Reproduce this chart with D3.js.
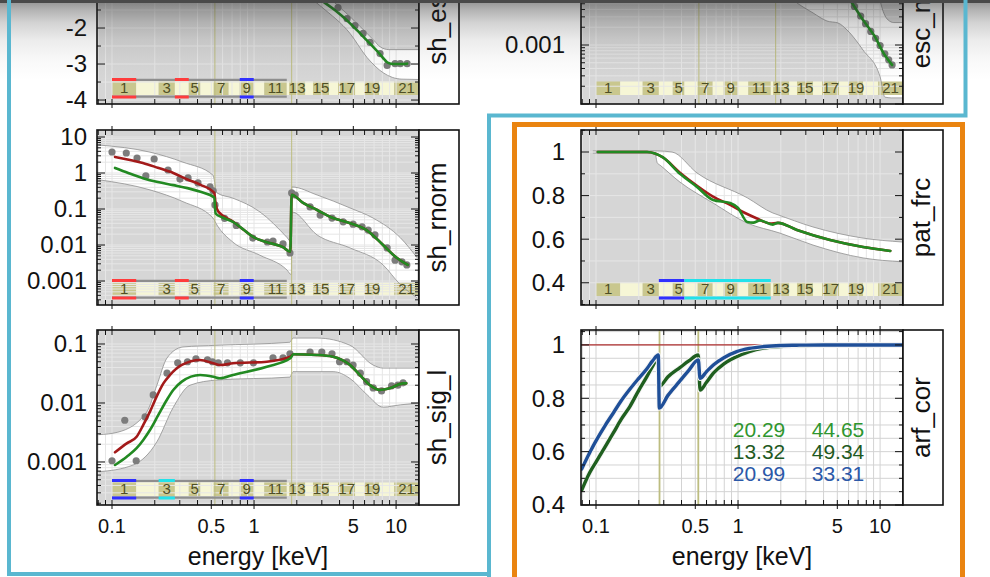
<!DOCTYPE html>
<html>
<head>
<meta charset="utf-8">
<script src="https://cdn.jsdelivr.net/npm/d3@7"></script>
<style>
  html, body { margin: 0; padding: 0; background: #fff; }
  svg { display: block; }
</style>
</head>
<body>
<script>
// ---------- shared energy axis ----------
const energyDomain = [0.0784, 14.5];
const energyTicks = [0.1, 0.5, 1, 5, 10];
const energyTickLabels = ["0.1", "0.5", "1", "5", "10"];

// channel groups shown in the strip along the bottom of the panels
const channelEdges = [0.1, 0.148, 0.213, 0.277, 0.347, 0.419, 0.52, 0.663, 0.793, 0.995, 1.18,
                      1.70, 1.77, 2.29, 2.60, 3.37, 3.91, 5.15, 6.05, 7.59, 9.69, 14.5];

// absorption edges
const edgeEnergies = [0.53, 1.84];
const arfEdgeEnergies = [0.28, 0.525];

// ---------- sh_es ----------
const esTicks = [-4, -3, -2];
const esTickLabels = ["-4", "-3", "-2"];
const esModel = [[2.0,-0.70],[2.5,-0.98],[3.01,-1.24],[3.7,-1.50],[4.52,-1.79],[5.3,-2.06],[6.25,-2.35],
                 [7.0,-2.55],[7.71,-2.73],[8.3,-2.88],[8.65,-2.95],[9.2,-2.99],[9.84,-3.0],[11.0,-3.0],[11.96,-2.99]];
const esPoints = [[3.9,-1.43],[4.52,-1.74],[5.14,-1.93],[5.86,-2.15],[6.56,-2.40],[7.71,-2.71],
                  [8.65,-3.04],[9.84,-2.99],[10.7,-2.99],[11.96,-2.99]];
const esBandLo = [[2.0,-0.88],[3.0,-1.42],[4.74,-2.15],[6.25,-2.82],[8.1,-3.24],[9.4,-3.37],[11.0,-3.42],[14.5,-3.43]];
const esBandHi = [[2.0,-0.52],[3.7,-1.30],[5.3,-1.87],[7.0,-2.35],[7.71,-2.52],[8.9,-2.60],[14.5,-2.60]];
const esRedChannels = [1, 4];
const esBlueChannels = [9];

// ---------- esc_m ----------
const escTicks = [0.001];
const escTickLabels = ["0.001"];
const escModel = [[5.0,0.0125],[6.15,0.0058],[7.59,0.00265],[9.22,0.00137],[10.5,0.00075],[12.15,0.00046]];
const escPoints = [[6.6,0.0045],[7.3,0.0031],[7.9,0.0023],[8.6,0.0017],[9.3,0.0013],[10.0,0.00098],
                   [10.8,0.00071],[11.5,0.00056],[12.15,0.00046]];
const escBandLo = [[1.5,0.02],[2.0,0.009],[2.44,0.0058],[3.37,0.0035],[4.23,0.00255],[5.06,0.00236],[5.85,0.0018],
                   [7.59,0.00082],[10.0,0.00029],[10.8,0.000131],[12.0,0.000127],[14.5,0.000127]];
const escBandHi = [[1.5,0.06],[8.0,0.05],[9.2,0.02],[10.0,0.0058],[11.4,0.00265],[12.5,0.0024],[14.5,0.0024]];

// ---------- sh_rnorm ----------
const rnormTicks = [0.001, 0.01, 0.1, 1, 10];
const rnormTickLabels = ["0.001", "0.01", "0.1", "1", "10"];
const rnormFitA = [[0.105,2.8],[0.165,1.9],[0.21,1.4],[0.27,1.0],[0.34,0.66],[0.42,0.47],[0.525,0.28],[0.536,0.14],
                   [0.56,0.085],[0.71,0.045],[0.85,0.026],[0.98,0.017],[1.23,0.012],[1.6,0.0087],[1.8,0.0065],
                   [1.84,0.25],[2.2,0.15],[2.78,0.094],[3.6,0.056],[4.7,0.041],[6.2,0.026],[8.1,0.010],[10.1,0.0044],[12.1,0.0028]];
const rnormFitB = [[0.105,1.38],[0.13,1.0],[0.165,0.72],[0.21,0.56],[0.27,0.46],[0.34,0.38],[0.42,0.30],[0.525,0.21],
                   [0.536,0.075],[0.6,0.058],[0.71,0.044],[0.85,0.026],[0.98,0.017],[1.23,0.012],[1.6,0.0087],[1.8,0.0065],
                   [1.84,0.25],[2.2,0.15],[2.78,0.094],[3.6,0.056],[4.7,0.041],[6.2,0.026],[8.1,0.010],[10.1,0.0044],[12.1,0.0028]];
const rnormPoints = [[0.100,3.83],[0.126,3.6],[0.150,2.6],[0.173,0.83],[0.198,2.45],[0.248,1.21],[0.301,0.68],[0.343,0.73],
                     [0.403,0.53],[0.49,0.41],[0.514,0.32],[0.531,0.13],[0.62,0.055],[0.75,0.035],[0.98,0.0156],[1.24,0.0121],
                     [1.36,0.0129],[1.6,0.0107],[1.79,0.006],[1.84,0.28],[1.95,0.245],[2.48,0.114],[2.92,0.068],[3.54,0.056],
                     [4.24,0.044],[4.98,0.038],[5.76,0.032],[6.36,0.026],[7.1,0.019],[8.65,0.0083],[9.84,0.0038],[11.0,0.0034],[11.9,0.0028]];
const rnormBandLo = [[0.0804,0.65],[0.185,0.34],[0.316,0.16],[0.514,0.056],[0.548,0.036],[0.71,0.012],[1.10,0.0052],
                     [1.71,0.002],[1.83,0.0015],[1.845,0.083],[2.78,0.019],[4.74,0.0083],[8.1,0.0028],[10.7,0.0008],[14.1,0.00034]];
const rnormBandHi = [[0.0804,6.0],[0.185,3.8],[0.316,2.0],[0.514,0.87],[0.548,0.28],[0.71,0.20],[1.10,0.083],
                     [1.71,0.016],[1.83,0.012],[1.845,0.41],[2.78,0.245],[4.74,0.107],[6.89,0.056],[10.7,0.016],[14.1,0.0044]];
const rnormRedChannels = [1, 4];
const rnormBlueChannels = [9];

// ---------- sh_sig_l ----------
const sigTicks = [0.001, 0.01, 0.1];
const sigTickLabels = ["0.001", "0.01", "0.1"];
const sigFitA = [[0.105,0.00146],[0.127,0.00207],[0.149,0.00268],[0.166,0.00424],[0.185,0.00713],[0.206,0.0128],
                 [0.230,0.0215],[0.256,0.0298],[0.310,0.0441],[0.417,0.0536],[0.517,0.047],[0.575,0.044],[0.711,0.047],
                 [1.23,0.0501],[1.80,0.061],[1.89,0.0668],[2.77,0.0651],[3.6,0.061],[4.74,0.0441],[5.56,0.0298],
                 [6.53,0.0202],[7.66,0.0166],[9.0,0.0177],[11.2,0.0215],[11.8,0.0215]];
const sigFitB = [[0.105,0.00089],[0.127,0.00123],[0.149,0.00171],[0.166,0.00236],[0.185,0.00348],[0.212,0.00627],
                 [0.243,0.01125],[0.270,0.0166],[0.310,0.0230],[0.417,0.0298],[0.517,0.0279],[0.575,0.0262],[0.711,0.0298],
                 [1.23,0.0413],[1.80,0.0572],[1.89,0.0668],[2.77,0.0651],[3.6,0.061],[4.74,0.0441],[5.56,0.0298],
                 [6.53,0.0202],[7.66,0.0166],[9.0,0.0177],[11.2,0.0215],[11.8,0.0215]];
const sigPoints = [[0.1,0.00105],[0.123,0.0051],[0.148,0.00105],[0.171,0.0058],[0.195,0.0137],[0.244,0.032],[0.29,0.048],
                   [0.34,0.050],[0.39,0.056],[0.47,0.054],[0.51,0.050],[0.56,0.048],[0.65,0.048],[0.8,0.048],[0.99,0.048],
                   [1.36,0.058],[1.6,0.058],[1.79,0.068],[2.48,0.073],[3.0,0.073],[3.54,0.068],[4.0,0.050],[4.5,0.050],
                   [4.98,0.044],[5.6,0.032],[6.2,0.023],[6.9,0.018],[7.9,0.016],[9.3,0.0195],[10.3,0.020],[11.2,0.022]];
const sigBandLo = [[0.0804,0.00068],[0.141,0.00089],[0.207,0.0022],[0.269,0.0083],[0.354,0.020],[0.548,0.0245],
                   [1.79,0.0275],[1.88,0.034],[3.6,0.034],[4.74,0.026],[6.25,0.0138],[8.1,0.0085],[10.7,0.0093],[14.5,0.010]];
const sigBandHi = [[0.0804,0.0029],[0.11,0.0032],[0.176,0.0071],[0.207,0.020],[0.244,0.058],[0.316,0.089],[0.548,0.095],
                   [1.79,0.107],[1.88,0.126],[2.78,0.126],[4.74,0.095],[6.89,0.044],[8.1,0.039],[14.5,0.039]];
const sigBlueChannels = [1, 9];
const sigCyanChannels = [3];

// ---------- pat_frc ----------
const patTicks = [0.4, 0.6, 0.8, 1.0];
const patTickLabels = ["0.4", "0.6", "0.8", "1"];
const patFitA = [[0.103,1.0],[0.229,1.0],[0.26,0.993],[0.296,0.975],[0.39,0.905],[0.514,0.845],[0.667,0.795],[0.88,0.757],
                 [1.12,0.72],[1.36,0.695],[1.68,0.672],[1.91,0.675],[2.6,0.642],[4.45,0.596],[7.59,0.564],[11.8,0.546]];
const patFitB = [[0.103,1.0],[0.229,1.0],[0.26,0.993],[0.296,0.975],[0.39,0.90],[0.514,0.84],[0.667,0.78],[0.88,0.766],
                 [1.0,0.743],[1.16,0.679],[1.28,0.676],[1.43,0.686],[1.68,0.670],[1.76,0.667],[1.91,0.675],[2.6,0.642],
                 [4.45,0.596],[7.59,0.564],[11.8,0.546]];
const patBandLo = [[0.095,0.995],[0.26,0.995],[0.27,0.95],[0.282,0.94],[0.39,0.862],[0.667,0.766],[1.16,0.674],[1.97,0.628],
                   [3.37,0.573],[7.59,0.514],[14.4,0.496]];
const patBandHi = [[0.095,1.005],[0.27,1.005],[0.343,1.0],[0.514,0.904],[1.16,0.79],[1.76,0.72],[1.85,0.715],[3.37,0.656],
                   [7.59,0.605],[14.4,0.587]];
const patBlueChannels = [4, 5];
const patCyanChannels = [6, 7, 8, 9, 10, 11];

// ---------- arf_cor ----------
const arfTicks = [0.4, 0.6, 0.8, 1.0];
const arfTickLabels = ["0.4", "0.6", "0.8", "1"];
const arfReference = 1.0;
const arfCurveA = [[0.0793,0.456],[0.09,0.52],[0.1011,0.565],[0.115,0.615],[0.1324,0.67],[0.15,0.72],[0.1735,0.77],
                   [0.20,0.83],[0.2275,0.88],[0.25,0.92],[0.2746,0.95],[0.279,0.844],[0.32,0.88],[0.39,0.915],
                   [0.45,0.94],[0.525,0.9625],[0.54,0.831],[0.6,0.86],[0.67,0.894],[0.8,0.93],[0.979,0.956],
                   [1.2,0.975],[1.51,0.988],[2.0,0.994],[2.59,0.997],[4.0,1.0],[14.5,1.0]];
const arfCurveB = [[0.0793,0.535],[0.09,0.595],[0.1011,0.645],[0.115,0.695],[0.1324,0.745],[0.15,0.79],[0.1735,0.835],
                   [0.20,0.875],[0.2275,0.91],[0.25,0.94],[0.2746,0.9625],[0.279,0.763],[0.32,0.81],[0.39,0.865],
                   [0.45,0.905],[0.525,0.944],[0.54,0.875],[0.6,0.90],[0.67,0.925],[0.8,0.953],[0.979,0.975],
                   [1.2,0.987],[1.51,0.994],[2.0,0.998],[2.59,0.999],[4.0,1.0],[14.5,1.0]];
const arfStatRows = [["20.29", "44.65"], ["13.32", "49.34"], ["20.99", "33.31"]];

// ---------- layout ----------
const W = 990, H = 577;
const colLeft = [97, 581];
const plotW = 322;
const rowTop = [-44, 130, 330];
const rowH = [148, 175, 175];
const labelBoxW = 40;
const yLabelGap = [10, 16];
const FONT = '"Liberation Sans", Arial, Helvetica, sans-serif';

const C = {
  bg: "#d6d6d6", grid: "#e6e6e6", gridWhite: "#d3d3d3", bandEdge: "#8f8f8f",
  red: "#a31a1a", green: "#228a22", point: "#7c7c7c", edge: "#bdbd80",
  chDark: "#c9c78e", chLight: "#f6f6d6", chText: "#4f4f25",
  chGray: "#8e8e8e", chRed: "#ff3c3c", chBlue: "#3030ff", chCyan: "#22e2ea",
  arfGreen: "#1f5f1f", arfBlue: "#1f4f98", arfRef: "#b03030",
  statColors: ["#2f962f", "#1f5a1f", "#2b58a8"]
};

const svg = d3.select("body").append("svg")
  .attr("width", W).attr("height", H)
  .style("font-family", FONT);
svg.append("rect").attr("width", W).attr("height", H).attr("fill", "#fff");
const defs = svg.append("defs");

const xMinor = [];
for (let k = -2; k <= 1; k++) for (let m = 1; m <= 9; m++) {
  const v = +(m * Math.pow(10, k)).toPrecision(6);
  if (v >= energyDomain[0] && v <= energyDomain[1]) xMinor.push(v);
}

function logSteps(dom) {
  const out = [];
  for (let k = Math.floor(Math.log10(dom[0])); k <= Math.ceil(Math.log10(dom[1])); k++)
    for (let m = 1; m <= 9; m++) {
      const v = +(m * Math.pow(10, k)).toPrecision(6);
      if (v >= dom[0] && v <= dom[1]) out.push(v);
    }
  return out;
}
function linSteps(dom, step) {
  return d3.range(Math.ceil(dom[0] / step - 1e-6), Math.floor(dom[1] / step + 1e-6) + 1)
    .map(i => +(i * step).toFixed(6));
}

function channelRuns(list) {
  // contiguous runs of channel numbers
  const runs = [];
  list.slice().sort((a, b) => a - b).forEach(c => {
    const last = runs[runs.length - 1];
    if (last && last[1] === c - 1) last[1] = c; else runs.push([c, c]);
  });
  return runs;
}

function drawPanel(p) {
  const x0 = colLeft[p.col], top = rowTop[p.row], h = rowH[p.row];
  const bottom = top + h, right = x0 + plotW;
  const x = d3.scaleLog().domain(energyDomain).range([x0, right]);
  const y = (p.log ? d3.scaleLog() : d3.scaleLinear()).domain(p.yDomain).range([bottom, top]);
  const ySteps = p.log ? logSteps(p.yDomain) : linSteps(p.yDomain, p.yStep);
  const line = d3.line().x(d => x(d[0])).y(d => y(d[1])).curve(d3.curveMonotoneX);

  const g = svg.append("g");
  const cid = "clip-" + p.id;
  defs.append("clipPath").attr("id", cid)
    .append("rect").attr("x", x0).attr("y", top).attr("width", plotW).attr("height", h);
  const body = g.append("g").attr("clip-path", `url(#${cid})`);

  body.append("rect").attr("x", x0).attr("y", top).attr("width", plotW).attr("height", h)
    .attr("fill", p.white ? "#fff" : C.bg);

  // uncertainty band
  if (p.band) {
    const [lo, hi] = p.band;
    const d = line(hi) + line(lo.slice().reverse()).replace(/^M/, "L") + "Z";
    body.append("path").attr("d", d).attr("fill", "#fff");
  }

  // channel strip
  const sTop = bottom - 22.5, sBot = bottom - 9;
  const chans = channelEdges.slice(0, -1).map((e, i) => ({ n: i + 1, a: e, b: channelEdges[i + 1] }));
  if (p.strip) {
    body.append("g").selectAll("rect").data(chans).join("rect")
      .attr("x", d => x(d.a)).attr("width", d => x(d.b) - x(d.a))
      .attr("y", sTop).attr("height", sBot - sTop)
      .attr("fill", d => d.n % 2 ? C.chDark : C.chLight);
  }

  // grid
  const gc = p.white ? C.gridWhite : C.grid;
  body.append("g").selectAll("line").data(xMinor).join("line")
    .attr("x1", d => x(d)).attr("x2", d => x(d)).attr("y1", top).attr("y2", bottom)
    .attr("stroke", gc).attr("stroke-width", 1);
  body.append("g").selectAll("line").data(ySteps).join("line")
    .attr("x1", x0).attr("x2", right).attr("y1", d => y(d)).attr("y2", d => y(d))
    .attr("stroke", gc).attr("stroke-width", 1);

  if (p.band) {
    p.band.forEach(b => body.append("path").attr("d", line(b)).attr("fill", "none")
      .attr("stroke", C.bandEdge).attr("stroke-width", 0.8));
  }

  // edge markers
  (p.edges || []).forEach(e => body.append("line")
    .attr("x1", x(e)).attr("x2", x(e)).attr("y1", top).attr("y2", bottom)
    .attr("stroke", C.edge).attr("stroke-width", p.white ? 1.8 : 1));

  if (p.strip) {
    body.append("g").selectAll("text").data(chans.filter(d => d.n % 2)).join("text")
      .attr("x", d => (x(d.a) + x(d.b)) / 2).attr("y", sBot - 1.8)
      .attr("text-anchor", "middle").attr("font-size", 15).attr("fill", C.chText)
      .text(d => d.n);
    const bar = (c0, c1, color, thick) => {
      const xa = x(channelEdges[c0 - 1]), xb = x(channelEdges[c1]);
      [sTop - thick / 2 - 0.5, sBot + thick / 2 + 0.5].forEach(yy =>
        body.append("line").attr("x1", xa).attr("x2", xb).attr("y1", yy).attr("y2", yy)
          .attr("stroke", color).attr("stroke-width", thick));
    };
    if (p.grayRun) bar(p.grayRun[0], p.grayRun[1], C.chGray, 2.2);
    (p.marks || []).forEach(m => channelRuns(m.channels).forEach(r => bar(r[0], r[1], m.color, 3)));
  }

  // data points
  if (p.points) {
    body.append("g").selectAll("circle").data(p.points).join("circle")
      .attr("cx", d => x(d[0])).attr("cy", d => y(d[1])).attr("r", 3.6).attr("fill", C.point);
  }

  // reference line
  if (p.reference !== undefined) {
    body.append("line").attr("x1", x0).attr("x2", right)
      .attr("y1", y(p.reference)).attr("y2", y(p.reference))
      .attr("stroke", C.arfRef).attr("stroke-width", 1.2);
  }

  (p.lines || []).forEach(l => {
    if (l.halo) body.append("path").attr("d", line(l.data)).attr("fill", "none")
      .attr("stroke", "#f4f4f4").attr("stroke-width", l.width + 2);
    body.append("path").attr("d", line(l.data)).attr("fill", "none")
      .attr("stroke", l.color).attr("stroke-width", l.width)
      .attr("stroke-linejoin", "round").attr("stroke-linecap", "round");
  });

  // frame and ticks
  const tk = g.append("g").attr("stroke", "#111").attr("stroke-width", 1);
  ySteps.forEach(v => {
    const major = p.yTicks.some(t => Math.abs(t - v) < 1e-9) || (p.log && Math.abs(Math.log10(v) % 1) < 1e-9);
    const L = major ? 8 : 4;
    const yy = y(v);
    tk.append("line").attr("x1", x0).attr("x2", x0 + L).attr("y1", yy).attr("y2", yy);
    tk.append("line").attr("x1", right).attr("x2", right - L).attr("y1", yy).attr("y2", yy);
  });
  xMinor.forEach(v => {
    const xx = x(v);
    tk.append("line").attr("x1", xx).attr("x2", xx).attr("y1", bottom).attr("y2", bottom - 5);
    tk.append("line").attr("x1", xx).attr("x2", xx).attr("y1", top).attr("y2", top + 5);
  });
  energyTicks.forEach(v => {
    const xx = x(v);
    tk.append("line").attr("x1", xx).attr("x2", xx).attr("y1", bottom).attr("y2", bottom + 4);
    tk.append("line").attr("x1", xx).attr("x2", xx).attr("y1", top).attr("y2", top - 4);
  });
  g.append("rect").attr("x", x0).attr("y", top).attr("width", plotW).attr("height", h)
    .attr("fill", "none").attr("stroke", "#111").attr("stroke-width", 1.6);

  // y tick labels
  g.append("g").selectAll("text").data(p.yTicks).join("text")
    .attr("x", x0 - yLabelGap[p.col]).attr("y", d => y(d)).attr("dy", "0.35em")
    .attr("text-anchor", "end").attr("font-size", 24).attr("fill", "#111")
    .text((d, i) => p.yTickLabels[i]);

  // panel name box
  g.append("rect").attr("x", right).attr("y", top).attr("width", labelBoxW).attr("height", h)
    .attr("fill", "#fff").attr("stroke", "#111").attr("stroke-width", 1.6);
  g.append("text").attr("transform", `translate(${right + 27},${top + h / 2}) rotate(-90)`)
    .attr("text-anchor", "middle").attr("font-size", 26).attr("fill", "#111").text(p.label);

  // energy axis labels on the bottom row
  if (p.row === 2) {
    g.append("g").selectAll("text").data(energyTicks).join("text")
      .attr("x", d => x(d)).attr("y", bottom + 28)
      .attr("text-anchor", "middle").attr("font-size", 20).attr("fill", "#111")
      .text((d, i) => energyTickLabels[i]);
    g.append("text").attr("x", (x0 + right) / 2).attr("y", bottom + 60)
      .attr("text-anchor", "middle").attr("font-size", 25).attr("fill", "#111")
      .text("energy [keV]");
  }

  if (p.stats) {
    const colOff = [178, 257], rowOff = [107, 129, 151];
    p.stats.forEach((row, r) => row.forEach((s, c) => g.append("text")
      .attr("x", x0 + colOff[c]).attr("y", top + rowOff[r])
      .attr("text-anchor", "middle").attr("font-size", 21).attr("fill", C.statColors[r]).text(s)));
  }
}

const panels = [
  { id: "es", col: 0, row: 0, label: "sh_es", log: false, yDomain: [-4.11, 0], yStep: 0.5,
    yTicks: esTicks, yTickLabels: esTickLabels, band: [esBandLo, esBandHi], points: esPoints,
    lines: [{ data: esModel, color: C.green, width: 2.6 }], edges: edgeEnergies,
    strip: true, grayRun: [1, 11],
    marks: [{ channels: esRedChannels, color: C.chRed }, { channels: esBlueChannels, color: C.chBlue }] },
  { id: "esc", col: 1, row: 0, label: "esc_m", log: true, yDomain: [1e-4, 0.03225],
    yTicks: escTicks, yTickLabels: escTickLabels, band: [escBandLo, escBandHi], points: escPoints,
    lines: [{ data: escModel, color: C.green, width: 2.6 }], edges: edgeEnergies, strip: true },
  { id: "rnorm", col: 0, row: 1, label: "sh_rnorm", log: true, yDomain: [2.155e-4, 15.65],
    yTicks: rnormTicks, yTickLabels: rnormTickLabels, band: [rnormBandLo, rnormBandHi], points: rnormPoints,
    lines: [{ data: rnormFitA, color: C.red, width: 2.6 }, { data: rnormFitB, color: C.green, width: 2.6 }],
    edges: edgeEnergies, strip: true, grayRun: [1, 11],
    marks: [{ channels: rnormRedChannels, color: C.chRed }, { channels: rnormBlueChannels, color: C.chBlue }] },
  { id: "pat", col: 1, row: 1, label: "pat_frc", log: false, yDomain: [0.298, 1.101], yStep: 0.1,
    yTicks: patTicks, yTickLabels: patTickLabels, band: [patBandLo, patBandHi],
    lines: [{ data: patFitA, color: C.red, width: 2.6 }, { data: patFitB, color: C.green, width: 2.6 }],
    strip: true,
    marks: [{ channels: patBlueChannels, color: C.chBlue }, { channels: patCyanChannels, color: C.chCyan }] },
  { id: "sig", col: 0, row: 2, label: "sh_sig_l", log: true, yDomain: [1.866e-4, 0.1726],
    yTicks: sigTicks, yTickLabels: sigTickLabels, band: [sigBandLo, sigBandHi], points: sigPoints,
    lines: [{ data: sigFitA, color: C.red, width: 2.6 }, { data: sigFitB, color: C.green, width: 2.6 }],
    edges: edgeEnergies, strip: true, grayRun: [1, 11],
    marks: [{ channels: sigBlueChannels, color: C.chBlue }, { channels: sigCyanChannels, color: C.chCyan }] },
  { id: "arf", col: 1, row: 2, label: "arf_cor", log: false, yDomain: [0.4, 1.056], yStep: 0.05, white: true,
    yTicks: arfTicks, yTickLabels: arfTickLabels, reference: arfReference, edges: arfEdgeEnergies,
    lines: [{ data: arfCurveA, color: C.arfGreen, width: 3.4, halo: true },
            { data: arfCurveB, color: C.arfBlue, width: 3.4, halo: true }],
    stats: arfStatRows }
];
panels.forEach(drawPanel);

// shading under the window bar
const grad = defs.append("linearGradient").attr("id", "topShade")
  .attr("x1", 0).attr("y1", 0).attr("x2", 0).attr("y2", 1);
[[0, 0.52], [0.12, 0.36], [0.28, 0.21], [0.5, 0.09], [0.75, 0.03], [1, 0]].forEach(([o, a]) =>
  grad.append("stop").attr("offset", o).attr("stop-color", "#2a2a2a").attr("stop-opacity", a));
svg.append("rect").attr("x", 0).attr("y", 0).attr("width", W).attr("height", 80).attr("fill", "url(#topShade)");
svg.append("rect").attr("x", 0).attr("y", 0).attr("width", W).attr("height", 3).attr("fill", "#4a4a4a");

// selection outlines
const sel = svg.append("g").attr("fill", "none");
sel.append("path")
  .attr("d", "M9,0 V574 H489 M489,577 V115.5 H965.5 V0")
  .attr("stroke", "#5ab7d0").attr("stroke-width", 4);
sel.append("path")
  .attr("d", "M514.5,580 V124.5 H962.5 V580")
  .attr("stroke", "#ea8410").attr("stroke-width", 5);
</script>
</body>
</html>
